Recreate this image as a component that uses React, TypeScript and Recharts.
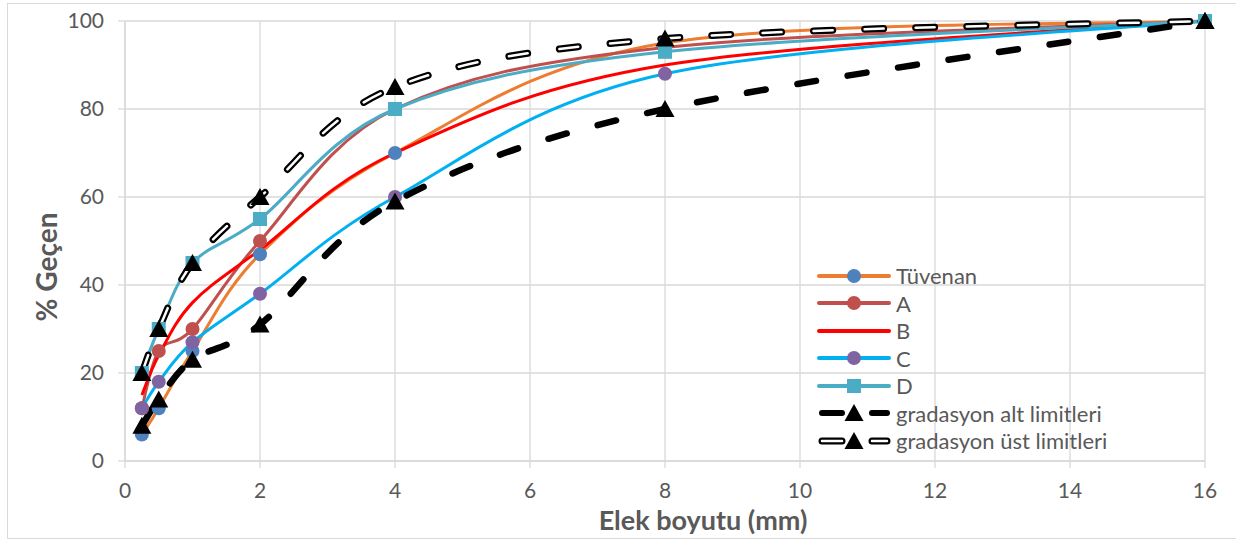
import React from "react"
import { LineChart, Line, XAxis, YAxis, CartesianGrid, Legend } from "recharts"

// elek boyutu (mm)
const sieveSizes = [0.25, 0.5, 1, 2, 4, 8, 16]

// % geçen
const tuvenan = [6, 12, 25, 47, 70, 95, 100]
const seriesA = [12, 25, 30, 50, 80, 94, 100]
const seriesB = [15, 24, 36, 48, 70, 90, 100]
const seriesC = [12, 18, 27, 38, 60, 88, 100]
const seriesD = [20, 30, 45, 55, 80, 93, 100]
const altLimit = [8, 14, 23, 31, 59, 80, 100]
const ustLimit = [20, 30, 45, 60, 85, 96, 100]

const xTicks = [0, 2, 4, 6, 8, 10, 12, 14, 16]
const yTicks = [0, 20, 40, 60, 80, 100]

const data = sieveSizes.map((size, i) => ({
  size,
  tuvenan: tuvenan[i],
  a: seriesA[i],
  b: seriesB[i],
  c: seriesC[i],
  d: seriesD[i],
  alt: altLimit[i],
  ust: ustLimit[i],
}))

const GRID = "#D9D9D9"
const TEXT = "#595959"
const FONT = "Lato, 'Open Sans', sans-serif"

type Shape = "circle" | "square" | "triangle" | "none"

const SERIES: {
  key: string
  name: string
  line: string
  marker: string
  shape: Shape
  style?: "alt" | "ust"
}[] = [
  { key: "tuvenan", name: "Tüvenan", line: "#ED7D31", marker: "#4F81BD", shape: "circle" },
  { key: "a", name: "A", line: "#C0504D", marker: "#C0504D", shape: "circle" },
  { key: "b", name: "B", line: "#FF0000", marker: "#FF0000", shape: "none" },
  { key: "c", name: "C", line: "#00B0F0", marker: "#8064A2", shape: "circle" },
  { key: "d", name: "D", line: "#4BACC6", marker: "#4BACC6", shape: "square" },
  { key: "alt", name: "gradasyon alt limitleri", line: "#000000", marker: "#000000", shape: "triangle", style: "alt" },
  { key: "ust", name: "gradasyon üst limitleri", line: "#000000", marker: "#000000", shape: "triangle", style: "ust" },
]

// Excel-like smoothed line (Catmull-Rom, 1/6 tangents)
function excelSmooth(context: any) {
  let xs: number[] = []
  let ys: number[] = []
  return {
    areaStart() {},
    areaEnd() {},
    lineStart() {
      xs = []
      ys = []
    },
    point(x: number, y: number) {
      xs.push(+x)
      ys.push(+y)
    },
    lineEnd() {
      const n = xs.length
      if (!n) return
      context.moveTo(xs[0], ys[0])
      for (let i = 0; i < n - 1; i++) {
        const p = Math.max(i - 1, 0)
        const q = Math.min(i + 2, n - 1)
        context.bezierCurveTo(
          xs[i] + (xs[i + 1] - xs[p]) / 6,
          ys[i] + (ys[i + 1] - ys[p]) / 6,
          xs[i + 1] - (xs[q] - xs[i]) / 6,
          ys[i + 1] - (ys[q] - ys[i]) / 6,
          xs[i + 1],
          ys[i + 1]
        )
      }
    },
  }
}

function Marker({ shape, cx, cy, fill }: { shape: Shape; cx: number; cy: number; fill: string }) {
  if (shape === "circle") return <circle cx={cx} cy={cy} r={7} fill={fill} />
  if (shape === "square") return <rect x={cx - 7} y={cy - 7} width={14} height={14} fill={fill} />
  if (shape === "triangle")
    return <path d={`M${cx},${cy - 9}L${cx + 9.5},${cy + 8}L${cx - 9.5},${cy + 8}Z`} fill={fill} />
  return null
}

function dotFor(shape: Shape, fill: string) {
  if (shape === "none") return false
  return (p: any) => <Marker key={`m-${p.index}`} shape={shape} cx={p.cx} cy={p.cy} fill={fill} />
}

function LegendSample({ s }: { s: (typeof SERIES)[number] }) {
  return (
    <svg width={74} height={22} style={{ display: "block" }}>
      {s.style === "alt" && (
        <line x1={5} y1={11} x2={70} y2={11} stroke="#000" strokeWidth={6} strokeDasharray="20 30" strokeLinecap="round" />
      )}
      {s.style === "ust" && (
        <>
          <line x1={5} y1={11} x2={70} y2={11} stroke="#000" strokeWidth={7} strokeDasharray="20 30" strokeLinecap="round" />
          <line x1={5} y1={11} x2={70} y2={11} stroke="#fff" strokeWidth={2.5} strokeDasharray="20 30" strokeLinecap="round" />
        </>
      )}
      {!s.style && <line x1={2} y1={11} x2={72} y2={11} stroke={s.line} strokeWidth={4} strokeLinecap="round" />}
      <Marker shape={s.shape} cx={37} cy={11} fill={s.marker} />
    </svg>
  )
}

function LegendBox() {
  return (
    <div style={{ fontFamily: FONT, fontSize: 22, color: TEXT }}>
      {SERIES.map((s) => (
        <div key={s.key} style={{ display: "flex", alignItems: "center", height: 27.5, whiteSpace: "nowrap" }}>
          <LegendSample s={s} />
          <span style={{ marginLeft: 5, lineHeight: "27px" }}>{s.name}</span>
        </div>
      ))}
    </div>
  )
}

export default function App() {
  return (
    <div style={{ position: "absolute", left: 0, top: 0, width: 1236, height: 540, background: "#fff" }}>
      <div
        style={{
          position: "absolute",
          left: 7,
          top: 3,
          width: 1240,
          height: 536,
          border: `1px solid ${GRID}`,
          boxSizing: "border-box",
        }}
      />
      <LineChart
        width={1236}
        height={540}
        data={data}
        margin={{ top: 21, right: 31, left: 1, bottom: 39 }}
        style={{ fontFamily: FONT }}
      >
        <CartesianGrid stroke={GRID} strokeWidth={1.3} />
        <XAxis
          dataKey="size"
          type="number"
          domain={[0, 16]}
          ticks={xTicks}
          height={40}
          stroke={GRID}
          strokeWidth={1.3}
          tickSize={7}
          tickMargin={15}
          tick={{ fill: TEXT, fontSize: 21, fontFamily: FONT }}
          label={(props: any) => {
            const vb = props.viewBox
            return (
              <text
                x={vb.x + vb.width / 2 + 38}
                y={vb.y + 69}
                textAnchor="middle"
                fill={TEXT}
                fontSize={27}
                fontWeight="bold"
                fontFamily={FONT}
              >
                Elek boyutu (mm)
              </text>
            )
          }}
        />
        <YAxis
          type="number"
          domain={[0, 100]}
          ticks={yTicks}
          width={124}
          stroke={GRID}
          strokeWidth={1.3}
          tickSize={7}
          tickMargin={14}
          tick={{ fill: TEXT, fontSize: 21, fontFamily: FONT }}
          label={(props: any) => {
            const vb = props.viewBox
            const cx = vb.x + 56
            const cy = vb.y + vb.height / 2 + 26
            return (
              <text
                x={cx}
                y={cy}
                transform={`rotate(-90 ${cx} ${cy})`}
                textAnchor="middle"
                fill={TEXT}
                fontSize={28}
                fontWeight="bold"
                fontFamily={FONT}
              >
                % Geçen
              </text>
            )
          }}
        />
        <Legend
          layout="vertical"
          align="center"
          verticalAlign="middle"
          content={() => <LegendBox />}
          wrapperStyle={{ left: 817, top: 262, width: 320, height: 195 }}
        />
        {SERIES.filter((s) => !s.style).map((s) => (
          <Line
            key={s.key}
            dataKey={s.key}
            name={s.name}
            type={excelSmooth as any}
            stroke={s.line}
            strokeWidth={3}
            dot={dotFor(s.shape, s.marker)}
            activeDot={false}
            isAnimationActive={false}
          />
        ))}
        <Line
          dataKey="alt"
          name="gradasyon alt limitleri"
          type={excelSmooth as any}
          stroke="#000"
          strokeWidth={6.5}
          strokeDasharray="19 32"
          strokeLinecap="round"
          dot={dotFor("triangle", "#000")}
          activeDot={false}
          isAnimationActive={false}
        />
        <Line
          dataKey="ust"
          name="gradasyon üst limitleri"
          legendType="none"
          type={excelSmooth as any}
          stroke="#000"
          strokeWidth={7}
          strokeDasharray="19 32"
          strokeLinecap="round"
          dot={false}
          activeDot={false}
          isAnimationActive={false}
        />
        <Line
          dataKey="ust"
          name="gradasyon üst limitleri (iç)"
          legendType="none"
          type={excelSmooth as any}
          stroke="#fff"
          strokeWidth={2.5}
          strokeDasharray="19 32"
          strokeLinecap="round"
          dot={dotFor("triangle", "#000")}
          activeDot={false}
          isAnimationActive={false}
        />
      </LineChart>
    </div>
  )
}
